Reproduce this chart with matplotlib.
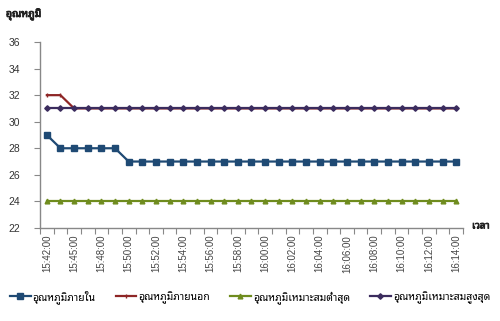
import matplotlib
matplotlib.use("Agg")
import matplotlib.pyplot as plt
import matplotlib.patheffects as pe
import numpy as np

THAI = ["Noto Sans Thai Looped", "Loma", "DejaVu Sans"]
NUM = ["Liberation Sans", "DejaVu Sans"]

# readings, one per sample (31 samples)
inside = [29, 28, 28, 28, 28, 28] + [27] * 25
outside = [32, 32] + [31] * 29
opt_min = [24] * 31
opt_max = [31] * 31

# time labels shown on every second sample
time_labels = ["15:42:00", "15:45:00", "15:48:00", "15:50:00", "15:52:00",
               "15:54:00", "15:56:00", "15:58:00", "16:00:00", "16:02:00",
               "16:04:00", "16:06:00", "16:08:00", "16:10:00", "16:12:00",
               "16:14:00"]

series_names = ["อุณหภูมิภายใน", "อุณหภูมิภายนอก",
                "อุณหภูมิเหมาะสมต่ำสุด", "อุณหภูมิเหมาะสมสูงสุด"]

y_ticks = [22, 24, 26, 28, 30, 32, 34, 36]

fig = plt.figure(figsize=(5, 3.21), dpi=100)
ax = fig.add_axes([0.080, 0.290, 0.846, 0.579])

x = np.arange(len(inside))
styles = [
    (inside, "#1F4A74", "s", 3.8),
    (outside, "#8E2626", "|", 3.0),
    (opt_min, "#6F8C1E", "^", 3.4),
    (opt_max, "#3B2C5E", "D", 2.8),
]
handles = []
for (vals, col, mk, ms), name in zip(styles, series_names):
    h, = ax.plot(x, vals, color=col, lw=1.6, marker=mk, ms=ms,
                 markeredgecolor=col, markerfacecolor=col, label=name)
    handles.append(h)

ax.set_xlim(-0.5, len(x) - 0.5)
ax.set_ylim(22, 36)
ax.set_yticks(y_ticks)
ax.set_yticklabels([str(v) for v in y_ticks], family=NUM, fontsize=7.5,
                   color="#333333")

# tick marks on category boundaries, labels on every second sample
ax.set_xticks(np.arange(-0.5, len(x)), minor=False)
ax.set_xticklabels([])
ax.set_xticks(np.arange(0, len(x), 2), minor=True)
ax.set_xticklabels(time_labels, minor=True, rotation=90, family=NUM,
                   fontsize=7, color="#444444")
ax.tick_params(axis="x", which="minor", length=0, pad=5)
ax.tick_params(axis="x", which="major", length=4, color="#888888",
               direction="out")
ax.tick_params(axis="y", length=4, color="#888888", direction="out", pad=10)

for s in ("top", "right"):
    ax.spines[s].set_visible(False)
for s in ("left", "bottom"):
    ax.spines[s].set_color("#888888")
    ax.spines[s].set_linewidth(1.0)

bold = [pe.withStroke(linewidth=0.6, foreground="#222222")]
fig.text(0.012, 0.955, "อุณหภูมิ", family=THAI, fontsize=7.5,
         color="#222222", va="center", path_effects=bold)
fig.text(0.944, 0.296, "เวลา", family=THAI, fontsize=7,
         color="#222222", va="center", path_effects=bold)

fig.legend(handles=handles, loc="center", bbox_to_anchor=(0.5, 0.075),
           ncol=4, frameon=False, prop={"family": THAI, "size": 7.5},
           handlelength=2.0, handletextpad=0.2, columnspacing=1.9)

fig.savefig("out.png", dpi=100, facecolor="white")
